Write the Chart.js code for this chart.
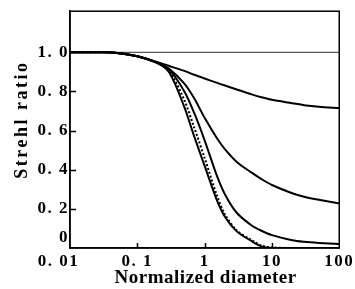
<!DOCTYPE html>
<html>
<head>
<meta charset="utf-8">
<script src="https://cdn.jsdelivr.net/npm/chart.js@4.4.1/dist/chart.umd.min.js"></script>
<style>
  html, body { margin: 0; padding: 0; background: #fff; }
  #wrap { width: 355px; height: 289px; }
</style>
</head>
<body>
<div id="wrap"><canvas id="strehl-chart"></canvas></div>
<script>
//
// Data
//

var diameters = [0.01, 0.03, 0.05, 0.1, 0.2, 0.3, 0.5, 0.7, 1, 1.5, 2, 3, 5, 7, 10, 20, 30, 50, 100];

var curveA = [1, 1, 0.997, 0.98, 0.95, 0.93, 0.905, 0.885, 0.866, 0.845, 0.83, 0.81, 0.785, 0.77, 0.757, 0.74, 0.73, 0.722, 0.715];
var curveB = [1, 1, 0.997, 0.98, 0.947, 0.915, 0.84, 0.765, 0.665, 0.565, 0.505, 0.44, 0.385, 0.352, 0.322, 0.28, 0.262, 0.246, 0.228];
var curveC = [1, 1, 0.997, 0.98, 0.945, 0.91, 0.8, 0.69, 0.55, 0.375, 0.275, 0.18, 0.115, 0.088, 0.066, 0.04, 0.032, 0.026, 0.02];
var curveDotted = [1, 1, 0.997, 0.98, 0.945, 0.903, 0.755, 0.615, 0.46, 0.275, 0.172, 0.09, 0.04, 0.012, 0.003, 0, 0, 0, 0];
var curveD = [1, 1, 0.997, 0.98, 0.945, 0.895, 0.72, 0.57, 0.42, 0.25, 0.16, 0.085, 0.035, 0.008, 0, 0, 0, 0, 0];

var referenceLevel = 1.0;

var xTicks = [0.01, 0.1, 1, 10, 100];
var xTickLabels = ['0. 01', '0. 1', '1', '10', '100'];
var yTicks = [0, 0.2, 0.4, 0.6, 0.8, 1.0];
var yTickLabels = ['0', '0. 2', '0. 4', '0. 6', '0. 8', '1. 0'];

var xTitle = 'Normalized diameter';
var yTitle = 'Strehl ratio';


//
// Helpers
//

function points(values) {
	return diameters.map(function(d, i) { return { x: d, y: values[i] }; });
}

function curve(values, dash) {
	return {
		data: points(values),
		borderColor: '#000',
		borderWidth: 2,
		borderDash: dash || [],
		pointRadius: 0,
		tension: 0.3,
		fill: false
	};
}

// frame, inward ticks and axis titles
var framePlugin = {
	id: 'frame',
	beforeDraw: function(chart) {
		chart.ctx.letterSpacing = '1.5px';
	},
	afterDatasetsDraw: function(chart) {
		var ctx = chart.ctx;
		var area = chart.chartArea;
		var xs = chart.scales.x;
		var ys = chart.scales.y;

		ctx.save();
		ctx.strokeStyle = '#000';
		ctx.lineWidth = 1.5;
		ctx.strokeRect(area.left, area.top, area.right - area.left, area.bottom - area.top);

		ctx.beginPath();
		xTicks.slice(1, -1).forEach(function(v) {
			var px = Math.round(xs.getPixelForValue(v)) + 0.5;
			ctx.moveTo(px, area.bottom);
			ctx.lineTo(px, area.bottom - 5);
		});
		yTicks.slice(1, -1).forEach(function(v) {
			var py = Math.round(ys.getPixelForValue(v)) + 0.5;
			ctx.moveTo(area.left, py);
			ctx.lineTo(area.left + 6, py);
		});
		ctx.stroke();
		ctx.restore();
	},
	afterDraw: function(chart) {
		var ctx = chart.ctx;
		var area = chart.chartArea;

		ctx.save();
		ctx.fillStyle = '#000';
		ctx.textAlign = 'center';
		ctx.textBaseline = 'alphabetic';
		ctx.font = 'bold 19px "Liberation Serif", serif';
		ctx.letterSpacing = '0.5px';
		ctx.fillText(xTitle, (area.left + area.right) / 2 + 1, area.bottom + 35);

		ctx.font = 'bold 18px "Liberation Serif", serif';
		ctx.letterSpacing = '2.5px';
		ctx.translate(27, (area.top + area.bottom) / 2 - 9);
		ctx.rotate(-Math.PI / 2);
		ctx.fillText(yTitle, 1, 0);
		ctx.restore();
	}
};


//
// Chart
//

var strehlChart = new Chart(document.getElementById('strehl-chart'), {
	type: 'line',
	data: {
		datasets: [
			curve(curveD),
			curve(curveDotted, [2, 2]),
			curve(curveC),
			curve(curveB),
			curve(curveA),
			{
				data: [{ x: diameters[0], y: referenceLevel }, { x: diameters[diameters.length - 1], y: referenceLevel }],
				borderColor: '#555',
				borderWidth: 1.2,
				pointRadius: 0
			}
		]
	},
	options: {
		responsive: true,
		maintainAspectRatio: false,
		animation: false,
		layout: {
			autoPadding: false,
			padding: { top: 4, right: 6, left: 0, bottom: 0 }
		},
		plugins: {
			legend: { display: false },
			tooltip: { enabled: false }
		},
		scales: {
			x: {
				type: 'logarithmic',
				min: 0.01,
				max: 100,
				grid: { display: false, drawTicks: false },
				border: { display: true, color: '#000', width: 1.5 },
				afterBuildTicks: function(scale) {
					scale.ticks = xTicks.map(function(v) { return { value: v }; });
				},
				afterFit: function(scale) { scale.height = 41; },
				ticks: {
					autoSkip: false,
					maxRotation: 0,
					padding: 3,
					color: '#000',
					font: { family: '"Liberation Serif", serif', size: 17, weight: 'bold' },
					callback: function(value, index) {
						// first label sits left of its tick, as in the print
						if (index === 0) return xTickLabels[index] + '    ';
						return xTickLabels[index];
					}
				}
			},
			y: {
				type: 'linear',
				min: 0,
				max: 1.21,
				grid: { display: false, drawTicks: false },
				border: { display: true, color: '#000', width: 1.5 },
				afterBuildTicks: function(scale) {
					scale.ticks = yTicks.map(function(v) { return { value: v }; });
				},
				afterFit: function(scale) { scale.width = 70; },
				ticks: {
					autoSkip: false,
					padding: 1,
					color: '#000',
					font: { family: '"Liberation Serif", serif', size: 17, weight: 'bold' },
					callback: function(value, index) {
						return index === 0 ? [yTickLabels[index], ''] : yTickLabels[index];
					}
				}
			}
		}
	},
	plugins: [framePlugin]
});
</script>
</body>
</html>
